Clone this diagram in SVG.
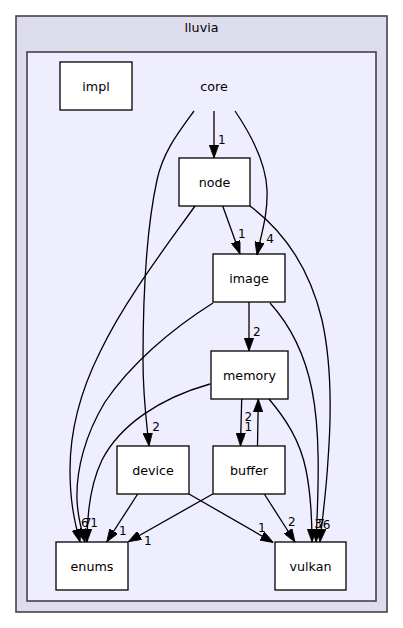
<svg xmlns="http://www.w3.org/2000/svg" width="403" height="628" viewBox="0 0 403 628">
<defs>
<marker id="ah" viewBox="0 0 13 9.4" refX="13" refY="4.7" markerWidth="13" markerHeight="9.4" markerUnits="userSpaceOnUse" orient="auto">
<path d="M0,0 L13,4.7 L0,9.4 z" fill="#000" stroke="#000" stroke-width="0.8"/>
</marker>
</defs>
<style>
text{font-family:"DejaVu Sans","Liberation Sans",sans-serif;fill:#000}
.cl{stroke:#444;stroke-width:1.6}
.nd rect{fill:#fff;stroke:#000;stroke-width:1.3}
.nd text,.lbl{font-size:12.7px;text-anchor:middle}
.e path{fill:none;stroke:#000;stroke-width:1.3;marker-end:url(#ah)}
.e text{font-size:12px;text-anchor:middle}
</style>
<rect width="403" height="628" fill="#fff"/>
<g id="cluster_lluvia">
<rect class="cl" x="16" y="16" width="371" height="596" fill="#ddddee"/>
<text class="lbl" x="201.5" y="31.5">lluvia</text>
</g>
<g id="cluster_core">
<rect class="cl" x="27" y="52" width="349" height="549" fill="#eeeeff"/>
<text class="lbl" x="214" y="90.5">core</text>
</g>
<g id="impl" class="nd"><rect x="60" y="62" width="72" height="48"/><text x="96" y="90.5">impl</text></g>
<g id="node" class="nd"><rect x="179" y="158" width="71" height="48"/><text x="214.5" y="186.5">node</text></g>
<g id="image" class="nd"><rect x="213" y="254" width="72" height="48"/><text x="249" y="282.5">image</text></g>
<g id="memory" class="nd"><rect x="211" y="351" width="77" height="48"/><text x="249.5" y="379.5">memory</text></g>
<g id="device" class="nd"><rect x="117" y="446" width="72" height="48"/><text x="153" y="474.5">device</text></g>
<g id="buffer" class="nd"><rect x="213" y="446" width="72" height="48"/><text x="249" y="474.5">buffer</text></g>
<g id="enums" class="nd"><rect x="56" y="542" width="72" height="48"/><text x="92" y="570.5">enums</text></g>
<g id="vulkan" class="nd"><rect x="275" y="542" width="71" height="48"/><text x="310.5" y="570.5">vulkan</text></g>
<g id="connectors" class="e">
<path d="M214,111 L214,158"/>
<text x="221.7" y="144">1</text>
<path d="M235,111 C252,136 266,165 267,190 C268,215 261,235 257,255"/>
<text x="270" y="242.5">4</text>
<path d="M194,111 C178,133 163,152 157,180 C145,235 143,300 143,360 C143,400 147,425 149,446"/>
<text x="156" y="431">2</text>
<path d="M222.7,206 L240,254"/>
<text x="241.7" y="237.5">1</text>
<path d="M195,206 C165,248 125,300 100,352 C80,392 70,430 70,470 C70,500 74,520 80,542"/>
<path d="M250,206 C285,232 310,270 322,320 C332,365 331,420 328,460 C326,495 322,520 320,542"/>
<path d="M249,302 L249,351"/>
<text x="256.7" y="336">2</text>
<path d="M213,303 C170,330 130,365 105,402 C85,435 76,470 77,500 C78,520 82,532 85,542"/>
<path d="M270,303 C290,325 305,355 312,390 C320,430 319,480 316,542"/>
<path d="M241.7,399 L240.5,446"/>
<path d="M257.5,446 L258.3,399"/>
<text x="248.3" y="421">2</text>
<text x="248.3" y="431">1</text>
<path d="M210,384 C160,398 120,425 102,460 C90,485 87,515 87,542"/>
<path d="M269,399 C285,418 300,440 306,470 C311,495 312,520 312,542"/>
<path d="M137.7,494 L106.7,542"/>
<text x="122.7" y="535">1</text>
<path d="M189,494 L273.3,542.5"/>
<text x="261.7" y="531.5">1</text>
<path d="M212.7,494 L128.3,541.7"/>
<text x="147.7" y="545">1</text>
<path d="M264.3,494 L295,542"/>
<text x="291.7" y="526">2</text>
<text x="84.7" y="527">6</text>
<text x="87.5" y="527">7</text>
<text x="94" y="527">1</text>
<text x="318" y="528">3</text>
<text x="321" y="528">7</text>
<text x="326.5" y="529">6</text>
</g>
</svg>
